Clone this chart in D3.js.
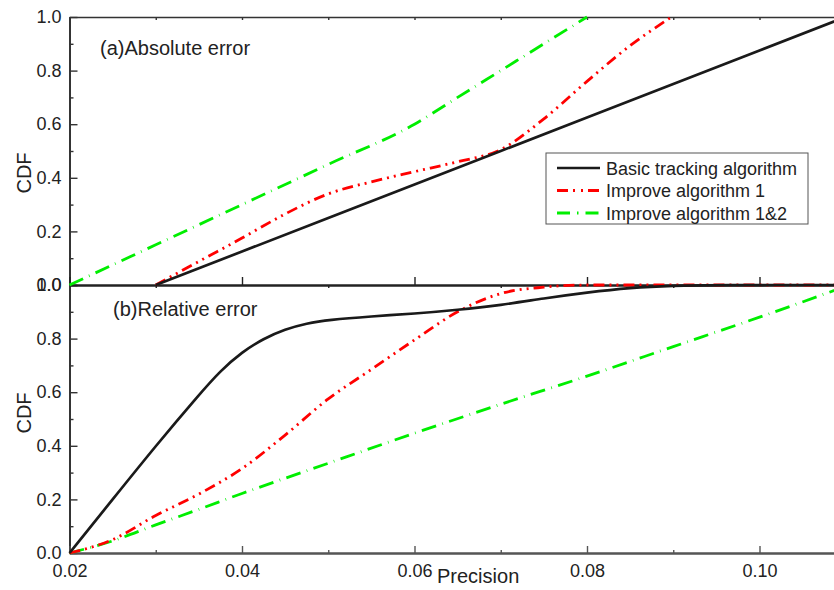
<!DOCTYPE html>
<html>
<head>
<meta charset="utf-8">
<script src="https://cdn.jsdelivr.net/npm/d3@7"></script>
<style>
  html, body { margin: 0; padding: 0; background: #fff; }
  svg { display: block; }
  text { font-family: "Liberation Sans", Arial, sans-serif; fill: #222; }
</style>
</head>
<body>
<svg id="chart" width="834" height="590"></svg>
<script>
// Tick values
const precisionTicks = [0.02, 0.04, 0.06, 0.08, 0.10];
const precisionMinor = [0.03, 0.05, 0.07, 0.09];
const cdfTicks = [0.0, 0.2, 0.4, 0.6, 0.8, 1.0];
const cdfMinor = [0.1, 0.3, 0.5, 0.7, 0.9];

const seriesNames = ["Basic tracking algorithm", "Improve algorithm 1", "Improve algorithm 1&2"];
const panelTitles = ["(a)Absolute error", "(b)Relative error"];

// (a) Absolute error: [precision, CDF]
const absBasic = [[0.03, 0], [0.04, 0.125], [0.05, 0.25], [0.06, 0.375], [0.07, 0.5],
  [0.08, 0.625], [0.09, 0.75], [0.10, 0.875], [0.11, 1.0]];
const absImp1 = [[0.03, 0], [0.035, 0.088], [0.04, 0.175], [0.045, 0.265], [0.05, 0.34],
  [0.055, 0.385], [0.06, 0.423], [0.065, 0.46], [0.07, 0.505], [0.075, 0.62],
  [0.08, 0.76], [0.085, 0.893], [0.0898, 1.0]];
const absImp12 = [[0.02, 0], [0.03, 0.15], [0.04, 0.30], [0.05, 0.45], [0.06, 0.60],
  [0.065, 0.70], [0.07, 0.80], [0.075, 0.90], [0.08, 1.0]];

// (b) Relative error: [precision, CDF]
const relBasic = [[0.02, 0], [0.025, 0.20], [0.03, 0.40], [0.035, 0.59], [0.0375, 0.68],
  [0.04, 0.75], [0.0425, 0.80], [0.045, 0.835], [0.0475, 0.857], [0.05, 0.87],
  [0.055, 0.883], [0.06, 0.893], [0.065, 0.907], [0.07, 0.925], [0.075, 0.95],
  [0.08, 0.972], [0.085, 0.99], [0.09, 0.998], [0.095, 1.0], [0.11, 1.0]];
const relImp1 = [[0.02, 0], [0.025, 0.05], [0.03, 0.14], [0.035, 0.22], [0.04, 0.315],
  [0.045, 0.44], [0.05, 0.575], [0.055, 0.685], [0.06, 0.795], [0.065, 0.9],
  [0.07, 0.968], [0.075, 0.992], [0.08, 1.0], [0.11, 1.0]];
const relImp12 = [[0.02, 0], [0.025, 0.045], [0.03, 0.105], [0.035, 0.163], [0.04, 0.222],
  [0.05, 0.335], [0.06, 0.447], [0.07, 0.555], [0.08, 0.66], [0.09, 0.77],
  [0.10, 0.88], [0.11, 0.995]];

const svg = d3.select("#chart");

const x = d3.scaleLinear().domain([0.02, 0.11]).range([69.5, 845.75]);
const yTop = d3.scaleLinear().domain([0, 1]).range([285, 17]);
const yBot = d3.scaleLinear().domain([0, 1]).range([553, 285]);

const styles = [
  { color: "#1a1a1a", width: 2.7, dash: null, legendDash: null },
  { color: "#ff0000", width: 2.8, dash: "11,5,2,5,2,5", legendDash: "11,5,2,6,2,5" },
  { color: "#00ee00", width: 2.8, dash: "15,6.5,0.7,6.5", legendDash: "13,7,1.5,7" }
];

function styleAxis(g, color, width) {
  g.select(".domain").attr("stroke", color).attr("stroke-width", width);
  g.selectAll(".tick line").attr("stroke", color).attr("stroke-width", 1.4);
  g.selectAll(".tick text")
    .attr("font-family", "'Liberation Sans', Arial, sans-serif")
    .attr("font-size", 18).attr("fill", "#222");
}

// Left axes (ticks inward)
[yTop, yBot].forEach(y => {
  const major = svg.append("g").attr("transform", "translate(69.5,0)")
    .call(d3.axisLeft(y).tickValues(cdfTicks).tickFormat(d3.format(".1f"))
      .tickSizeInner(-8).tickSizeOuter(0).tickPadding(8));
  styleAxis(major, "#333", 1.8);
  const minor = svg.append("g").attr("transform", "translate(69.5,0)")
    .call(d3.axisLeft(y).tickValues(cdfMinor).tickFormat("")
      .tickSizeInner(-4).tickSizeOuter(0));
  styleAxis(minor, "#333", 1.8);
});

// Top frame line with small ticks
const topFrame = svg.append("g").attr("transform", "translate(0,17)")
  .call(d3.axisTop(x).tickValues(precisionTicks.concat(precisionMinor)).tickFormat("")
    .tickSizeInner(-3).tickSizeOuter(0));
styleAxis(topFrame, "#333", 1.4);

// Shared middle axis between panels
const mid = svg.append("g").attr("transform", "translate(0,285)")
  .call(d3.axisBottom(x).tickValues(precisionTicks).tickFormat("")
    .tickSizeInner(-8).tickSizeOuter(0));
styleAxis(mid, "#222", 1.8);
const midMinor = svg.append("g").attr("transform", "translate(0,285)")
  .call(d3.axisBottom(x).tickValues(precisionMinor).tickFormat("")
    .tickSizeInner(3).tickSizeOuter(0));
styleAxis(midMinor, "#222", 1.8);

// Bottom precision axis
const bottom = svg.append("g").attr("transform", "translate(0,553)")
  .call(d3.axisBottom(x).tickValues(precisionTicks).tickFormat(d3.format(".2f"))
    .tickSizeInner(-7).tickSizeOuter(0).tickPadding(11));
styleAxis(bottom, "#555", 2);
const bottomMinor = svg.append("g").attr("transform", "translate(0,553)")
  .call(d3.axisBottom(x).tickValues(precisionMinor).tickFormat("")
    .tickSizeInner(-3).tickSizeOuter(0));
styleAxis(bottomMinor, "#555", 2);

// Curves
const panels = [
  { y: yTop, series: [absBasic, absImp1, absImp12], curves: [d3.curveLinear, d3.curveMonotoneX, d3.curveMonotoneX] },
  { y: yBot, series: [relBasic, relImp1, relImp12], curves: [d3.curveBasis, d3.curveMonotoneX, d3.curveMonotoneX] }
];

panels.forEach(p => {
  // green first, black last so the solid line sits on top
  [2, 1, 0].forEach(i => {
    const line = d3.line().x(d => x(d[0])).y(d => p.y(d[1])).curve(p.curves[i]);
    svg.append("path")
      .datum(p.series[i])
      .attr("d", line)
      .attr("fill", "none")
      .attr("stroke", styles[i].color)
      .attr("stroke-width", styles[i].width)
      .attr("stroke-dasharray", styles[i].dash)
      .attr("stroke-linecap", "butt")
      .attr("stroke-linejoin", "round");
  });
});

// Panel titles
svg.append("text").attr("x", 100).attr("y", 55).attr("font-size", 20).text(panelTitles[0]);
svg.append("text").attr("x", 113).attr("y", 316).attr("font-size", 20).text(panelTitles[1]);

// Axis titles
[173, 413].forEach(cy => {
  svg.append("text")
    .attr("transform", `translate(31,${cy}) rotate(-90)`)
    .attr("text-anchor", "middle")
    .attr("font-size", 20)
    .text("CDF");
});
svg.append("text").attr("x", 437).attr("y", 583).attr("font-size", 20).text("Precision");

// Legend
const legend = svg.append("g").attr("transform", "translate(546,153)");
legend.append("rect").attr("width", 262).attr("height", 71)
  .attr("fill", "#fff").attr("stroke", "#555").attr("stroke-width", 1);
const rowY = [15, 37.5, 60];
seriesNames.forEach((name, i) => {
  legend.append("line")
    .attr("x1", 11).attr("x2", 54).attr("y1", rowY[i]).attr("y2", rowY[i])
    .attr("stroke", styles[i].color)
    .attr("stroke-width", styles[i].width)
    .attr("stroke-dasharray", styles[i].legendDash);
  legend.append("text")
    .attr("x", 60).attr("y", rowY[i] + 6.5)
    .attr("font-size", 18)
    .text(name);
});
</script>
</body>
</html>
